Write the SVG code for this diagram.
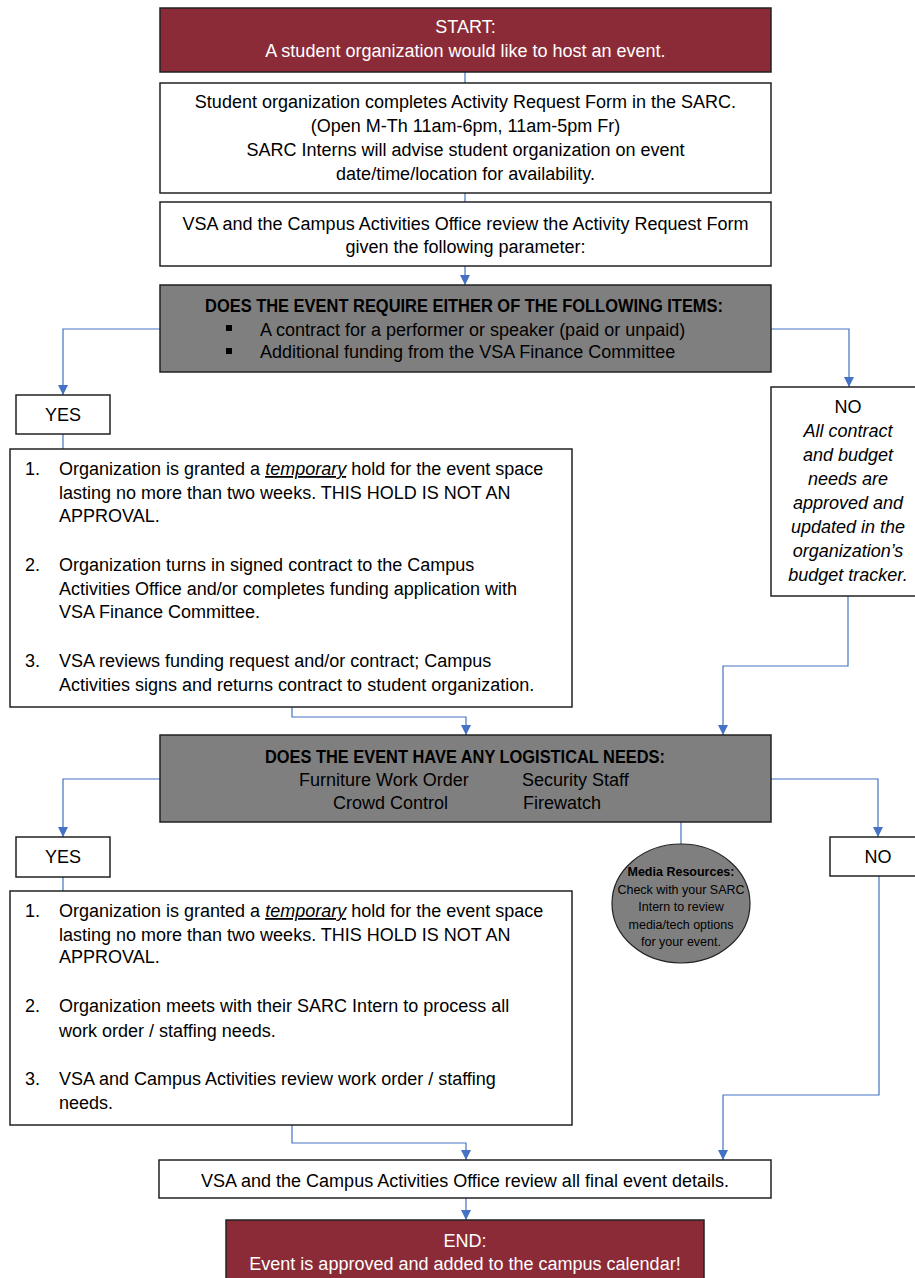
<svg xmlns="http://www.w3.org/2000/svg" width="915" height="1278" viewBox="0 0 915 1278">
<style>
text{font-family:"Liberation Sans",Arial,sans-serif;font-size:18px;fill:#000}
.c{text-anchor:middle}
.w{fill:#fff}
.b{font-weight:bold}
.i{font-style:italic}
.sm{font-size:12.5px}
.red{fill:#8b2b37;stroke:#222;stroke-width:1.5}
.box{fill:#fff;stroke:#222;stroke-width:1.5}
.gray{fill:#7f7f7f;stroke:#222;stroke-width:1.5}
.cn{fill:none;stroke:#4472c4;stroke-width:1.2}
.ar{marker-end:url(#ah)}
</style>
<defs>
<marker id="ah" viewBox="0 0 10 10" refX="10" refY="5" markerWidth="10" markerHeight="10" markerUnits="userSpaceOnUse" orient="auto">
<path d="M0,0 L10,5 L0,10 z" fill="#4472c4"/>
</marker>
</defs>

<g id="connectors">
<line class="cn" x1="465" y1="72" x2="465" y2="83"/>
<line class="cn" x1="465" y1="193" x2="465" y2="202"/>
<path class="cn ar" d="M465,266 V285"/>
<path class="cn ar" d="M160,329 H63 V395"/>
<path class="cn ar" d="M771,329 H849 V387"/>
<line class="cn" x1="63" y1="434" x2="63" y2="449"/>
<path class="cn ar" d="M292,707 V717 H466 V735"/>
<path class="cn ar" d="M848,596 V666 H723 V735"/>
<path class="cn ar" d="M160,779 H63 V837"/>
<path class="cn ar" d="M771,779 H878 V837"/>
<line class="cn" x1="681" y1="822" x2="681" y2="844"/>
<line class="cn" x1="63" y1="877" x2="63" y2="891"/>
<path class="cn ar" d="M292,1125 V1143 H466 V1160"/>
<path class="cn ar" d="M879,876 V1095 H723 V1160"/>
<path class="cn ar" d="M466,1198 V1220"/>
</g>

<g id="start">
<rect class="red" x="160" y="8" width="611" height="64"/>
<text class="c w" x="465.5" y="33">START:</text>
<text class="c w" x="465.5" y="57">A student organization would like to host an event.</text>
</g>

<g id="form">
<rect class="box" x="160" y="83" width="611" height="110"/>
<text class="c" x="465.5" y="108">Student organization completes Activity Request Form in the SARC.</text>
<text class="c" x="465.5" y="132">(Open M-Th 11am-6pm, 11am-5pm Fr)</text>
<text class="c" x="465.5" y="156">SARC Interns will advise student organization on event</text>
<text class="c" x="465.5" y="180">date/time/location for availability.</text>
</g>

<g id="review">
<rect class="box" x="160" y="202" width="611" height="64"/>
<text class="c" x="465.5" y="230">VSA and the Campus Activities Office review the Activity Request Form</text>
<text class="c" x="465.5" y="253">given the following parameter:</text>
</g>

<g id="decision1">
<rect class="gray" x="160" y="285" width="611" height="87"/>
<text class="b" x="205" y="312" textLength="518" lengthAdjust="spacingAndGlyphs">DOES THE EVENT REQUIRE EITHER OF THE FOLLOWING ITEMS:</text>
<rect x="226" y="325" width="6" height="6" fill="#000"/>
<text x="260" y="336">A contract for a performer or speaker (paid or unpaid)</text>
<rect x="226" y="348" width="6" height="6" fill="#000"/>
<text x="260" y="358">Additional funding from the VSA Finance Committee</text>
</g>

<g id="yes1">
<rect class="box" x="16" y="395" width="94" height="39"/>
<text class="c" x="63" y="421">YES</text>
</g>

<g id="no1">
<rect class="box" x="771" y="387" width="160" height="209"/>
<text class="c" x="848" y="413">NO</text>
<text class="c i" x="848" y="437">All contract</text>
<text class="c i" x="848" y="461">and budget</text>
<text class="c i" x="848" y="485">needs are</text>
<text class="c i" x="848" y="509">approved and</text>
<text class="c i" x="848" y="533">updated in the</text>
<text class="c i" x="848" y="557">organization’s</text>
<text class="c i" x="848" y="581">budget tracker.</text>
</g>

<g id="steps1">
<rect class="box" x="10" y="449" width="562" height="258"/>
<text x="25" y="475">1.</text>
<text x="59" y="475">Organization is granted a <tspan class="i" text-decoration="underline">temporary</tspan> hold for the event space</text>
<text x="59" y="499">lasting no more than two weeks. THIS HOLD IS NOT AN</text>
<text x="59" y="522">APPROVAL.</text>
<text x="25" y="571">2.</text>
<text x="59" y="571">Organization turns in signed contract to the Campus</text>
<text x="59" y="595">Activities Office and/or completes funding application with</text>
<text x="59" y="618">VSA Finance Committee.</text>
<text x="25" y="667">3.</text>
<text x="59" y="667">VSA reviews funding request and/or contract; Campus</text>
<text x="59" y="691">Activities signs and returns contract to student organization.</text>
</g>

<g id="decision2">
<rect class="gray" x="160" y="735" width="611" height="87"/>
<text class="b" x="265" y="763" textLength="400" lengthAdjust="spacingAndGlyphs">DOES THE EVENT HAVE ANY LOGISTICAL NEEDS:</text>
<text x="299" y="786">Furniture Work Order</text>
<text x="522" y="786">Security Staff</text>
<text x="333" y="809">Crowd Control</text>
<text x="523" y="809">Firewatch</text>
</g>

<g id="yes2">
<rect class="box" x="16" y="837" width="94" height="40"/>
<text class="c" x="63" y="863">YES</text>
</g>

<g id="no2">
<rect class="box" x="830" y="837" width="100" height="39"/>
<text class="c" x="878" y="863">NO</text>
</g>

<g id="media">
<ellipse cx="681" cy="903.5" rx="69" ry="59.5" fill="#7f7f7f" stroke="#222" stroke-width="1.2"/>
<text class="c b sm" x="681" y="876">Media Resources:</text>
<text class="c sm" x="681" y="894">Check with your SARC</text>
<text class="c sm" x="681" y="911">Intern to review</text>
<text class="c sm" x="681" y="929">media/tech options</text>
<text class="c sm" x="681" y="946">for your event.</text>
</g>

<g id="steps2">
<rect class="box" x="10" y="891" width="562" height="234"/>
<text x="25" y="917">1.</text>
<text x="59" y="917">Organization is granted a <tspan class="i" text-decoration="underline">temporary</tspan> hold for the event space</text>
<text x="59" y="941">lasting no more than two weeks. THIS HOLD IS NOT AN</text>
<text x="59" y="963">APPROVAL.</text>
<text x="25" y="1012">2.</text>
<text x="59" y="1012">Organization meets with their SARC Intern to process all</text>
<text x="59" y="1037">work order / staffing needs.</text>
<text x="25" y="1085">3.</text>
<text x="59" y="1085">VSA and Campus Activities review work order / staffing</text>
<text x="59" y="1109">needs.</text>
</g>

<g id="final">
<rect class="box" x="159" y="1160" width="612" height="38"/>
<text class="c" x="465" y="1187">VSA and the Campus Activities Office review all final event details.</text>
</g>

<g id="end">
<rect class="red" x="226" y="1220" width="478" height="70"/>
<text class="c w" x="465" y="1247">END:</text>
<text class="c w" x="465" y="1270">Event is approved and added to the campus calendar!</text>
</g>
</svg>
